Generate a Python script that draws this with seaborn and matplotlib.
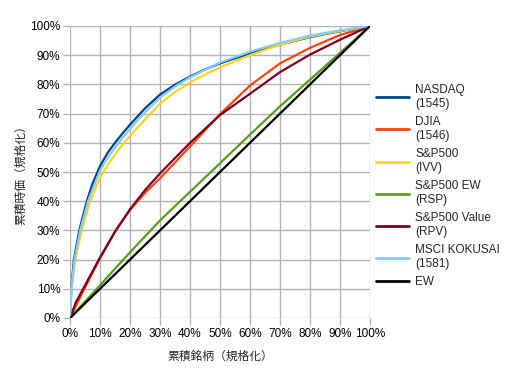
import matplotlib
matplotlib.use("Agg")
import matplotlib.pyplot as plt
import seaborn as sns
import pandas as pd
from matplotlib.ticker import FuncFormatter

sns.set_theme(style="white")
plt.rcParams['font.family'] = ['Liberation Sans', 'Noto Sans CJK JP', 'DejaVu Sans']

# Series data (x = cumulative stocks %, y = cumulative market cap %)
nasdaq_x = [0, 0.44, 1.3, 3.1, 5.6, 7.5, 10, 12.5, 15, 17.5, 20, 22.5, 25, 30, 35, 40, 45, 50, 60, 70, 80, 90, 100]
nasdaq_y = [0, 10, 20, 30, 40, 46, 52, 56.5, 60, 63.2, 66.2, 69, 71.8, 76.5, 79.9, 82.7, 85.1, 87.2, 90.6, 93.6, 96.2, 98.2, 100]

djia_x = [0, 4.8, 9.8, 15.3, 20, 25, 30, 40, 50, 60, 70, 80, 90, 100]
djia_y = [0, 10, 20, 30, 37, 42.8, 47.8, 58.7, 69.8, 79.6, 87.2, 92.5, 96.9, 100]

sp500_x = [0, 0.5, 1.8, 3.9, 6.7, 10, 12.5, 15, 17.5, 20, 22.5, 25, 30, 35, 40, 45, 50, 60, 70, 80, 90, 100]
sp500_y = [0, 10, 20, 30, 40, 48, 52.3, 56, 59.3, 62.3, 65.2, 68, 73.4, 77.4, 80.6, 83.4, 85.8, 90.0, 93.6, 96.4, 98.3, 100]

rsp_x = [0, 10, 20, 30, 40, 50, 60, 70, 80, 90, 100]
rsp_y = [0, 11.2, 22.5, 33.4, 43.2, 53, 62.8, 72.5, 81.6, 90.8, 100]

rpv_x = [0, 2, 4.4, 9.6, 15, 20, 25, 30, 40, 50, 60, 70, 80, 90, 100]
rpv_y = [0, 5.5, 10, 20, 29.6, 37.2, 43.8, 49.5, 60, 69.5, 76.8, 84.2, 90.2, 95.3, 100]

msci_x = [0, 0.47, 1.5, 3.4, 6, 10, 12.5, 15, 17.5, 20, 22.5, 25, 30, 35, 40, 45, 50, 60, 70, 80, 90, 100]
msci_y = [0, 10, 20, 30, 40, 50.5, 54.8, 58.4, 61.7, 64.7, 67.7, 70.4, 75.5, 79.3, 82.4, 85, 87.5, 91.2, 94.2, 96.7, 98.5, 100]

ew_x = [0, 100]
ew_y = [0, 100]

labels = ["NASDAQ\n(1545)", "DJIA\n(1546)", "S&P500\n(IVV)", "S&P500 EW\n(RSP)",
          "S&P500 Value\n(RPV)", "MSCI KOKUSAI\n(1581)", "EW"]
colors = ["#004586", "#ff420e", "#ffd320", "#579d1c", "#7e0021", "#83caff", "#000000"]
series = [(nasdaq_x, nasdaq_y), (djia_x, djia_y), (sp500_x, sp500_y), (rsp_x, rsp_y),
          (rpv_x, rpv_y), (msci_x, msci_y), (ew_x, ew_y)]

fig = plt.figure(figsize=(5.2, 3.77), dpi=100)
ax = fig.add_axes([70/520, 1-318/377, 300/520, 292/377])

for (xs, ys), lab, col in zip(series, labels, colors):
    df = pd.DataFrame({"x": xs, "y": ys})
    sns.lineplot(data=df, x="x", y="y", ax=ax, color=col, label=lab,
                 linewidth=1.6, estimator=None, sort=False)

ax.set_xlim(0, 100)
ax.set_ylim(0, 100)
ax.set_xticks(range(0, 101, 10))
ax.set_yticks(range(0, 101, 10))
pct = FuncFormatter(lambda v, p: f"{int(v)}%")
ax.xaxis.set_major_formatter(pct)
ax.yaxis.set_major_formatter(pct)
ax.grid(True, color="#b3b3b3", linewidth=1.0)
ax.set_axisbelow(True)
for s in ax.spines.values():
    s.set_visible(False)
ax.tick_params(axis="both", length=5, width=1.0, color="#b3b3b3",
               labelsize=8.5, pad=2, labelcolor="black", bottom=True, left=True)

ax.set_xlabel("累積銘柄（規格化）", fontsize=8.5, family=['Noto Sans CJK JP', 'DejaVu Sans'], labelpad=7)
ax.set_ylabel("累積時価（規格化）", fontsize=8.5, family=['Noto Sans CJK JP', 'DejaVu Sans'], labelpad=2)

leg = ax.legend(loc="upper left", bbox_to_anchor=(1.005, 0.817), frameon=False,
                fontsize=8.5, handlelength=2.8, handletextpad=0.5,
                labelspacing=0.53, borderaxespad=0)
for line in leg.get_lines():
    line.set_linewidth(2)

fig.savefig("out.png", dpi=100)
